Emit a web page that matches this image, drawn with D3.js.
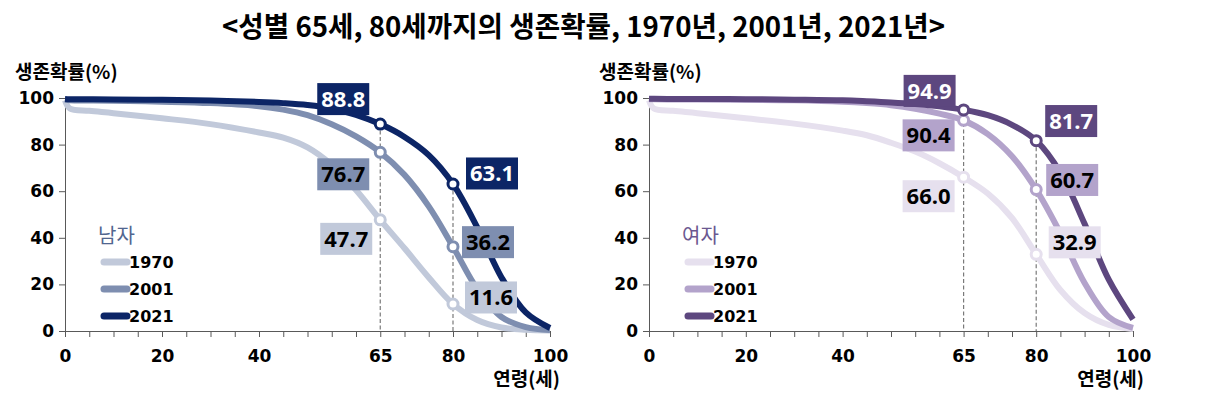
<!DOCTYPE html>
<html><head><meta charset="utf-8">
<script src="https://cdn.jsdelivr.net/npm/d3@7"></script>
<style>body{margin:0;background:#fff;} svg{display:block}</style>
</head><body>
<svg id="c" width="1207" height="399"></svg>
<script>
// ---------- data ----------
const title = "<성별 65세, 80세까지의 생존확률, 1970년, 2001년, 2021년>";
const years = ["1970", "2001", "2021"];
const ages = [0, 1, 5, 10, 20, 30, 40, 45, 50, 55, 60, 65, 70, 75, 80, 85, 90, 95, 100];
const male1970 = [99, 95.5, 94.5, 93.5, 91.3, 88.8, 85.2, 83, 78.8, 71.3, 60.5, 47.7, 35.5, 23, 11.6, 4.7, 1.5, 0.5, 0.2];
const male2001 = [99.2, 99.0, 98.9, 98.8, 98.4, 97.8, 96.5, 95, 92.6, 88.7, 83.5, 76.7, 67, 53.5, 36.2, 18, 6, 1.7, 0.4];
const male2021 = [99.6, 99.5, 99.45, 99.4, 99.2, 98.9, 98.3, 97.8, 97, 95.5, 92.8, 88.8, 83.3, 75.5, 63.1, 44.5, 23, 8, 1.3];
const female1970 = [99, 95.5, 94.5, 93.5, 91.3, 89, 86, 84, 80.8, 77, 72, 66.0, 59, 48.5, 32.9, 17.6, 7.7, 2.6, 0.9];
const female2001 = [99.5, 99.45, 99.4, 99.4, 99.2, 99, 98.4, 97.8, 96.9, 95.4, 93.3, 90.4, 84.5, 75, 60.7, 42, 20.6, 6, 1.3];
const female2021 = [99.7, 99.65, 99.6, 99.6, 99.5, 99.3, 99, 98.6, 98.1, 97.4, 96.4, 94.9, 92.6, 88.5, 81.7, 68, 46, 22, 5];
const markAges = [65, 80];
const xTickValues = d3.range(0, 101, 5);
const xTickLabels = [0, 20, 40, 65, 80, 100];
const yTickValues = [0, 20, 40, 60, 80, 100];
const yAxisTitle = "생존확률(%)";
const xAxisTitle = "연령(세)";
const legendTitles = ["남자", "여자"];

// ---------- styles / layout ----------
const maleColors = ["#c1c9da", "#7e8eb0", "#0c2566"];
const femaleColors = ["#e6e0ee", "#b3a3cb", "#5d477f"];
const maleTextColors = ["#000", "#000", "#fff"];
const femaleTextColors = ["#000", "#000", "#fff"];
// label box offsets (px) from the marker, [series][age index]
const maleOffsets = [[[-34, 19], [38, -6.5]], [[-37, 22], [35, -4.5]], [[-37, -25], [39, -10.5]]];
const femaleOffsets = [[[-35, 19], [38.5, -12]], [[-35, 15], [36, -9.6]], [[-34, -19], [35, -19.6]]];

const svg = d3.select("#c");
const numFont = "'DejaVu Sans', sans-serif";
const korFont = "'Noto Sans CJK KR', sans-serif";
const lblFont = "'Open Sans', 'Noto Sans', sans-serif";

svg.append("text")
  .attr("x", 222).attr("y", 37)
  .attr("textLength", 723).attr("lengthAdjust", "spacingAndGlyphs")
  .attr("font-family", korFont).attr("font-weight", 700).attr("font-size", 28)
  .attr("fill", "#000")
  .text(title);

function drawPanel(cfg) {
  const x = d3.scaleLinear().domain([0, 100]).range([cfg.x0, cfg.x1]);
  const y = d3.scaleLinear().domain([0, 100]).range([331, 98]);
  const g = svg.append("g");

  // axes
  const ya = g.append("g").attr("transform", `translate(${cfg.x0},0)`)
    .call(d3.axisLeft(y).tickValues(yTickValues).tickSize(6).tickSizeOuter(0).tickPadding(5));
  ya.select(".domain").attr("stroke", "#595959");
  ya.selectAll(".tick line").attr("stroke", "#595959");
  ya.selectAll("text").attr("font-family", numFont).attr("font-weight", 700).attr("font-size", 17).attr("fill", "#000");

  const xa = g.append("g").attr("transform", `translate(0,331)`)
    .call(d3.axisBottom(x).tickValues(xTickValues).tickSize(6).tickSizeOuter(0).tickPadding(13)
      .tickFormat(d => xTickLabels.includes(d) ? d : ""));
  xa.select(".domain").attr("stroke", "#595959");
  xa.selectAll(".tick line").attr("stroke", "#595959");
  xa.selectAll("text").attr("font-family", numFont).attr("font-weight", 700).attr("font-size", 17).attr("fill", "#000");

  // axis titles
  g.append("text").attr("x", cfg.yTitleX).attr("y", 79)
    .attr("font-family", korFont).attr("font-weight", 700).attr("font-size", 19).attr("fill", "#000")
    .text(yAxisTitle);
  g.append("text").attr("x", cfg.xTitleEnd).attr("y", 386).attr("text-anchor", "end")
    .attr("font-family", korFont).attr("font-weight", 700).attr("font-size", 19).attr("fill", "#000")
    .text(xAxisTitle);

  // dashed guides from the top series marker down to axis
  const top = cfg.series[cfg.series.length - 1];
  markAges.forEach(a => {
    const v = top[ages.indexOf(a)];
    g.append("line").attr("x1", x(a)).attr("x2", x(a)).attr("y1", y(v)).attr("y2", y(0))
      .attr("stroke", "#7a7a7a").attr("stroke-width", 1.2).attr("stroke-dasharray", "4,2.5");
  });

  // curves
  const line = d3.line().x((d, i) => x(ages[i])).y(d => y(d)).curve(d3.curveCatmullRom.alpha(0.5));
  cfg.series.forEach((s, si) => {
    g.append("path").datum(s).attr("d", line)
      .attr("fill", "none").attr("stroke", cfg.colors[si]).attr("stroke-width", 6)
      .attr("stroke-linecap", "butt").attr("stroke-linejoin", "round");
  });

  // markers + labels
  cfg.series.forEach((s, si) => {
    markAges.forEach((a, ai) => {
      const v = s[ages.indexOf(a)];
      const px = x(a), py = y(v);
      g.append("circle").attr("cx", px).attr("cy", py).attr("r", 5)
        .attr("fill", "#fff").attr("stroke", cfg.colors[si]).attr("stroke-width", 3);
      const [dx, dy] = cfg.offsets[si][ai];
      const bw = 52, bh = 32;
      g.append("rect").attr("x", px + dx - bw / 2).attr("y", py + dy - bh / 2)
        .attr("width", bw).attr("height", bh).attr("fill", cfg.colors[si]);
      g.append("text").attr("x", px + dx).attr("y", py + dy).attr("dy", "0.36em")
        .attr("text-anchor", "middle")
        .attr("font-family", lblFont).attr("font-weight", 700).attr("font-size", 22)
        .attr("fill", cfg.textColors[si])
        .text(v.toFixed(1));
    });
  });

  // legend
  g.append("text").attr("x", cfg.legX - 6).attr("y", 243)
    .attr("font-family", korFont).attr("font-weight", 400).attr("font-size", 20).attr("fill", cfg.legColor)
    .text(cfg.legTitle);
  years.forEach((yr, i) => {
    const ly = 262 + i * 27;
    g.append("line").attr("x1", cfg.legX).attr("x2", cfg.legX + 23).attr("y1", ly).attr("y2", ly)
      .attr("stroke", cfg.colors[i]).attr("stroke-width", 7).attr("stroke-linecap", "round");
    g.append("text").attr("x", cfg.legX + 25).attr("y", ly + 6)
      .attr("font-family", numFont).attr("font-weight", 700).attr("font-size", 16).attr("fill", "#000")
      .text(yr);
  });
}

drawPanel({x0: 65, x1: 550, series: [male1970, male2001, male2021], colors: maleColors,
  textColors: maleTextColors, offsets: maleOffsets, yTitleX: 15, xTitleEnd: 560,
  legX: 104, legTitle: legendTitles[0], legColor: "#51668f"});
drawPanel({x0: 649, x1: 1133, series: [female1970, female2001, female2021], colors: femaleColors,
  textColors: femaleTextColors, offsets: femaleOffsets, yTitleX: 599, xTitleEnd: 1144,
  legX: 688, legTitle: legendTitles[1], legColor: "#6b5890"});
</script>
</body></html>
